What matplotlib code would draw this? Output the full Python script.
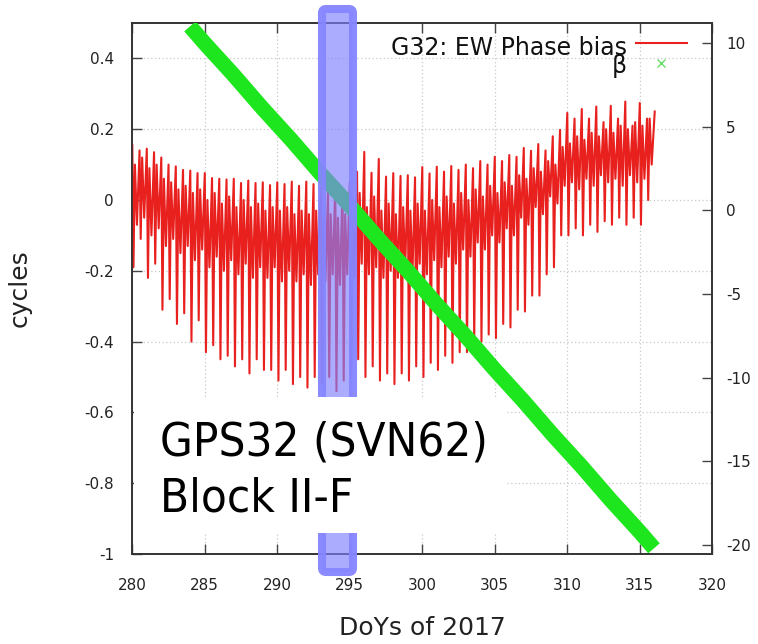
import numpy as np
import matplotlib
matplotlib.use('Agg')
import matplotlib.pyplot as plt
from matplotlib.patches import FancyBboxPatch, Rectangle
from matplotlib.lines import Line2D
from matplotlib.ticker import FuncFormatter

plt.rcParams['font.family'] = 'DejaVu Sans'
plt.rcParams['axes.unicode_minus'] = False

# EW phase bias of G32 [cycles], one entry per half-day orbit (troughs at DoY 280.1, 280.6, ...)
tops = [0.155, 0.14, 0.145, 0.135, 0.12, 0.10, 0.095, 0.085, 0.083, 0.076,
        0.076, 0.062, 0.06, 0.058, 0.06, 0.048, 0.055, 0.048, 0.05, 0.042,
        0.05, 0.045, 0.052, 0.04, 0.052, 0.045, 0.035, 0.03, 0.04, 0.03,
        0.05, 0.08, 0.136, 0.077, 0.116, 0.066, 0.076, 0.068, 0.07, 0.064,
        0.093, 0.075, 0.094, 0.08, 0.096, 0.085, 0.10, 0.09, 0.11, 0.10,
        0.122, 0.11, 0.127, 0.122, 0.147, 0.139, 0.158, 0.14, 0.18, 0.198,
        0.246, 0.23, 0.257, 0.23, 0.264, 0.22, 0.266, 0.23, 0.278, 0.21,
        0.274, 0.23]
troughs = [-0.19, -0.11, -0.22, -0.18, -0.31, -0.28, -0.35, -0.32, -0.40, -0.34,
           -0.43, -0.41, -0.45, -0.44, -0.47, -0.45, -0.49, -0.45, -0.48, -0.48,
           -0.51, -0.48, -0.52, -0.50, -0.53, -0.50, -0.52, -0.50, -0.54, -0.51,
           -0.50, -0.45, -0.50, -0.47, -0.51, -0.49, -0.52, -0.49, -0.51, -0.47,
           -0.50, -0.46, -0.48, -0.44, -0.46, -0.43, -0.43, -0.40, -0.40, -0.38,
           -0.39, -0.35, -0.36, -0.31, -0.315, -0.27, -0.27, -0.21, -0.19, -0.10,
           -0.10, -0.08, -0.10, -0.07, -0.09, -0.06, -0.07, -0.05, -0.07, -0.05,
           -0.07, 0.00]
rebounds = [0.10, 0.12, 0.09, 0.10, 0.06, 0.05, 0.03, 0.04, 0.02, 0.03,
            0.00, 0.02, -0.01, 0.01, -0.02, 0.00, -0.02, -0.01, -0.03, -0.02,
            -0.03, -0.02, -0.04, -0.03, -0.04, -0.03, -0.05, -0.04, -0.05, -0.04,
            -0.03, 0.02, -0.02, 0.01, -0.03, -0.01, -0.04, -0.02, -0.03, -0.01,
            -0.03, 0.00, -0.02, 0.01, -0.01, 0.02, 0.00, 0.03, 0.01, 0.04,
            0.02, 0.05, 0.04, 0.07, 0.06, 0.09, 0.08, 0.11, 0.10, 0.15,
            0.16, 0.18, 0.17, 0.19, 0.18, 0.20, 0.19, 0.21, 0.20, 0.22,
            0.21, 0.23]
dips = [-0.07, -0.05, -0.10, -0.08, -0.13, -0.11, -0.15, -0.13, -0.17, -0.14,
        -0.19, -0.16, -0.20, -0.17, -0.21, -0.18, -0.22, -0.19, -0.22, -0.19,
        -0.23, -0.20, -0.23, -0.21, -0.24, -0.21, -0.23, -0.21, -0.24, -0.21,
        -0.22, -0.18, -0.21, -0.19, -0.22, -0.20, -0.22, -0.19, -0.21, -0.18,
        -0.21, -0.17, -0.19, -0.16, -0.18, -0.14, -0.16, -0.12, -0.14, -0.10,
        -0.12, -0.08, -0.10, -0.05, -0.07, -0.02, -0.04, 0.01, -0.01, 0.04,
        0.05, 0.03, 0.06, 0.04, 0.07, 0.05, 0.06, 0.04, 0.07, 0.05,
        0.06, 0.10]
end_day, end_bias = 316.05, 0.25

# sun elevation angle beta [deg], daily
beta_days = list(range(284, 317))
beta_deg = [11.0, 10.0, 9.05, 8.1, 7.1, 6.1, 5.15, 4.2, 3.2, 2.2, 1.25,
            0.3, -0.7, -1.7, -2.65, -3.6, -4.6, -5.6, -6.55, -7.5, -8.5,
            -9.5, -10.45, -11.4, -12.4, -13.4, -14.35, -15.3, -16.3, -17.3,
            -18.25, -19.2, -20.2]

# build the time series: top -> trough -> rebound -> dip within every half-day
t0 = 280.1 + 0.5 * np.arange(len(troughs))
days = np.column_stack([t0 - 0.08, t0, t0 + 0.1, t0 + 0.24]).ravel()
bias = np.column_stack([tops, troughs, rebounds, dips]).ravel()
days = np.append(days, end_day)
bias = np.append(bias, end_bias)


def fmt_tick(v, pos):
    v = round(v, 1)
    return '%g' % (0.0 if abs(v) < 1e-9 else v)


W, H = 758, 644
fig = plt.figure(figsize=(W / 100, H / 100), dpi=100)
ax = fig.add_axes([132 / W, 90 / H, 580 / W, 531 / H])
ax2 = ax.twinx()

txt_col = '#222222'
red = '#e8201e'
ax.plot(days, bias, color=red, lw=1.5, zorder=3)
ax.set_xlim(280, 320)
ax.set_ylim(-1, 0.5)
ax.set_xticks(range(280, 321, 5))
ax.set_yticks(np.round(np.arange(-1, 0.41, 0.2), 1))
ax.yaxis.set_major_formatter(FuncFormatter(fmt_tick))
ax.grid(True, color='#c8c8c8', lw=0.9, linestyle=(0, (1, 2)))
ax.tick_params(axis='x', direction='in', length=7, width=1, top=True,
               pad=17, labelsize=11, labelcolor=txt_col, color='#444444')
ax.tick_params(axis='y', direction='in', length=7, width=1, right=False,
               pad=13, labelsize=11, labelcolor=txt_col, color='#444444')

ax2.plot(beta_days, beta_deg, color='#1ee61e', lw=11, solid_capstyle='butt', zorder=4)
ax2.set_ylim(-20.54, 11.2)
ax2.set_yticks(range(-20, 11, 5))
ax2.tick_params(axis='y', direction='in', length=7, width=1,
                pad=10, labelsize=11, labelcolor=txt_col, color='#444444')

for a in (ax, ax2):
    for s in a.spines.values():
        s.set_color('#333333')
        s.set_linewidth(1.2)

ax.set_xlabel('DoYs of 2017', fontsize=18, color=txt_col, va='center')
ax.xaxis.set_label_coords(0.5, -0.139)
ax.set_ylabel('cycles', fontsize=18, color=txt_col, va='center')
ax.yaxis.set_label_coords(-0.193, 0.5)

# key, right-justified as in gnuplot
ax2.text(0.853, 0.940, 'G32: EW Phase bias', transform=ax2.transAxes,
         ha='right', va='baseline', fontsize=17, color='#111111')
ax2.text(0.853, 0.906, 'β', transform=ax2.transAxes,
         ha='right', va='baseline', fontsize=17, color='#111111')
ax2.add_line(Line2D([0.869, 0.957], [0.962, 0.962], transform=ax2.transAxes,
                    color=red, lw=1.5))
ax2.add_line(Line2D([0.912], [0.925], transform=ax2.transAxes, marker='x',
                    markersize=6, mew=1, color='#66dd66', ls='none'))

# highlighted day band and annotation box, in pixel-like inch coordinates
inch = fig.dpi_scale_trans
band = FancyBboxPatch((3.22, (H - 572) / 100), 0.31, 5.63,
                      boxstyle='round,pad=0,rounding_size=0.04', transform=inch,
                      facecolor=(0.5, 0.5, 1.0, 0.65), edgecolor=(0.52, 0.52, 1.0, 0.95),
                      lw=5.8, zorder=10)
fig.add_artist(band)
fig.add_artist(Rectangle((1.34, (H - 533) / 100), 3.71, 1.36, transform=inch,
                         facecolor='white', edgecolor='none', zorder=11))
fig.text(1.60, (H - 456) / 100, 'GPS32 (SVN62)', transform=inch, fontsize=34,
         fontstretch='condensed', va='baseline', color='black', zorder=12)
fig.text(1.60, (H - 511) / 100, 'Block II-F', transform=inch, fontsize=34,
         fontstretch='condensed', va='baseline', color='black', zorder=12)

fig.savefig('out.png', dpi=100)
